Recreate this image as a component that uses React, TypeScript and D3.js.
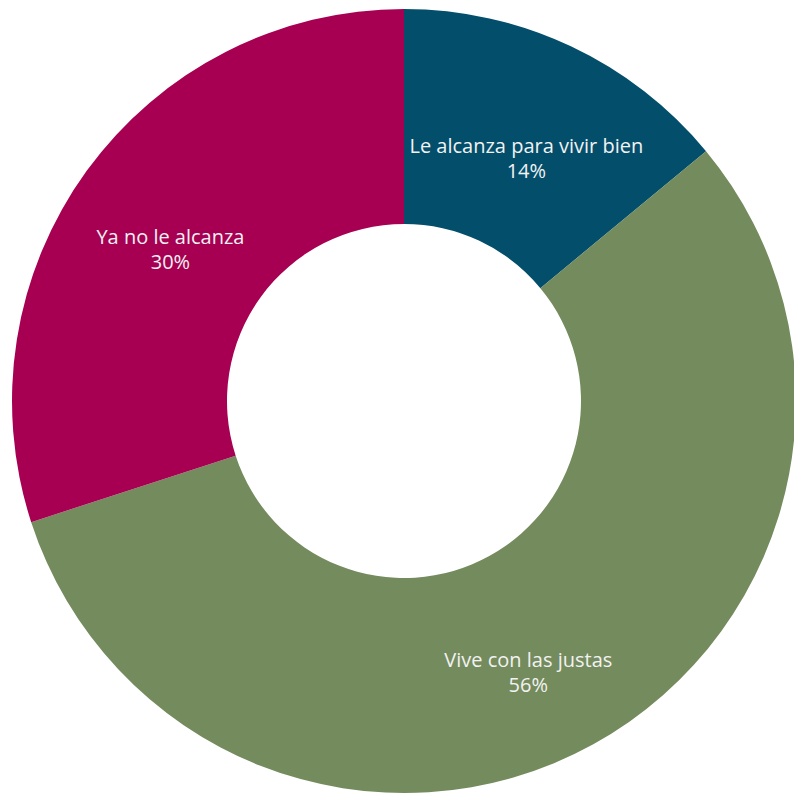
import React from "react";
import * as d3 from "d3";

const categories = ["Le alcanza para vivir bien", "Vive con las justas", "Ya no le alcanza"];
const values = [14, 56, 30];
const colors = ["#024e6b", "#748b5d", "#a70052"];

const W = 794;
const H = 794;
const cx = 404;
const cy = 401;
const outerR = 392;
const innerR = 177;
// small label nudges (px) relative to the arc centroid
const labelNudgeX = [1, -13, -3];
const labelNudgeY = [10, 16, 11];

export default function App() {
  const data = categories.map((c, i) => ({ name: c, value: values[i], color: colors[i] }));
  const pie = d3.pie<any>().value((d) => d.value).sort(null);
  const arcs = pie(data);
  const arc = d3.arc<any>().innerRadius(innerR).outerRadius(outerR);
  const labelArc = d3.arc<any>().innerRadius(285).outerRadius(285);
  return (
    <svg width={W} height={H} style={{ position: "absolute", left: 0, top: 0, background: "#fff" }}>
      <g transform={`translate(${cx},${cy})`}>
        {arcs.map((a, i) => (
          <path key={i} d={arc(a) as string} fill={a.data.color} />
        ))}
        {arcs.map((a, i) => {
          const [x0, y0] = labelArc.centroid(a);
          const x = x0 + labelNudgeX[i];
          const y = y0 + labelNudgeY[i];
          return (
            <text
              key={"t" + i}
              x={x}
              y={y}
              textAnchor="middle"
              fill="#f2f2f2"
              style={{ fontFamily: "'Open Sans', sans-serif", fontSize: 20 }}
            >
              <tspan x={x} y={y}>{a.data.name}</tspan>
              <tspan x={x} y={y + 25}>{a.data.value + "%"}</tspan>
            </text>
          );
        })}
      </g>
    </svg>
  );
}
